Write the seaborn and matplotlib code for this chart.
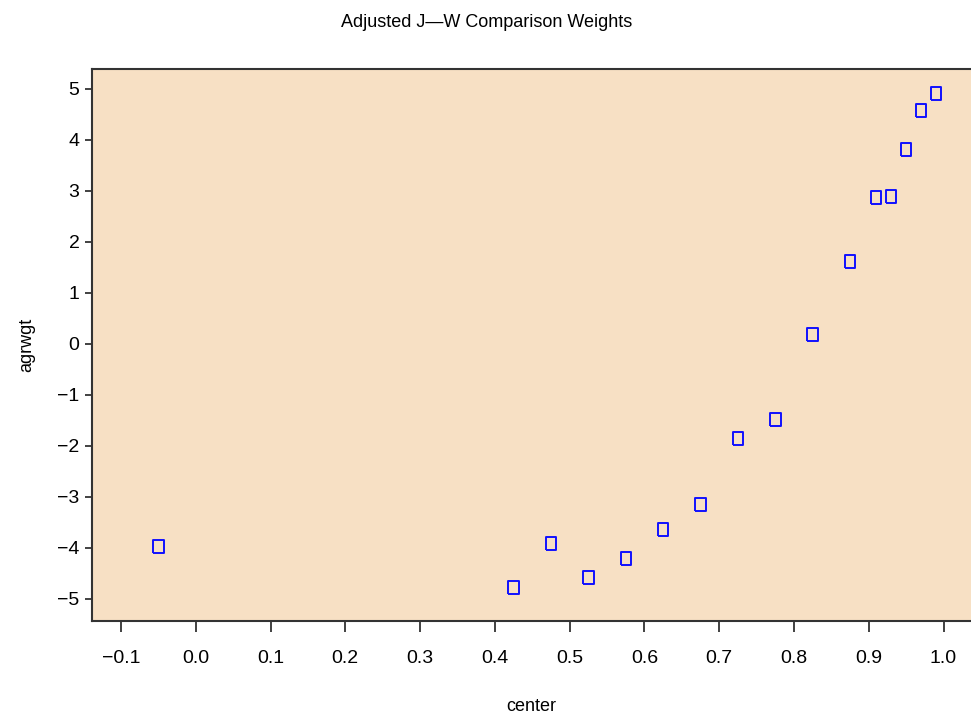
import matplotlib
matplotlib.use("Agg")
import matplotlib.pyplot as plt
import seaborn as sns
import pandas as pd

# Comparison weights by group center
center = [-0.050, 0.425, 0.475, 0.525, 0.575, 0.625, 0.675, 0.725, 0.775,
          0.825, 0.875, 0.910, 0.930, 0.950, 0.970, 0.990]
agrwgt = [-3.97, -4.78, -3.92, -4.57, -4.20, -3.64, -3.14, -1.86, -1.49,
          0.18, 1.61, 2.88, 2.90, 3.82, 4.58, 4.92]

x_ticks = [-0.1, 0.0, 0.1, 0.2, 0.3, 0.4, 0.5, 0.6, 0.7, 0.8, 0.9, 1.0]
y_ticks = [-5, -4, -3, -2, -1, 0, 1, 2, 3, 4, 5]

df = pd.DataFrame({"center": center, "agrwgt": agrwgt})

sns.set_theme(style="ticks")
plt.rcParams["font.family"] = ["Liberation Sans Narrow", "Liberation Sans", "DejaVu Sans"]
plt.rcParams["axes.unicode_minus"] = True
plt.rcParams["text.color"] = "black"
plt.rcParams["axes.labelcolor"] = "black"

fig = plt.figure(figsize=(9.71, 7.22), dpi=100)
ax = fig.add_axes([0.0947, 0.140, 0.9053, 0.765])
ax.set_facecolor("#F7E0C4")

# tall open rectangle marker
rect = [(-0.8, -1.0), (0.8, -1.0), (0.8, 1.0), (-0.8, 1.0), (-0.8, -1.0)]
sns.scatterplot(data=df, x="center", y="agrwgt", ax=ax, marker=rect, s=88,
                facecolor="none", edgecolor="#1010FF", linewidth=1.4, legend=False)

ax.set_xlim(-0.1388, 1.0367)
ax.set_ylim(-5.43, 5.40)
ax.set_xticks(x_ticks)
ax.set_xticklabels([f"{v:.1f}".replace("-", "\u2212") for v in x_ticks])
ax.set_yticks(y_ticks)
ax.set_yticklabels([str(v).replace("-", "\u2212") for v in y_ticks])

for side in ("left", "bottom", "top"):
    ax.spines[side].set_color("#333333")
    ax.spines[side].set_linewidth(1.5)
ax.spines["right"].set_visible(False)

ax.tick_params(axis="x", direction="out", length=8, width=1.3, pad=13,
               labelsize=14, colors="#333333", labelcolor="black")
ax.tick_params(axis="y", direction="out", length=5, width=1.3, pad=4,
               labelsize=14, colors="#333333", labelcolor="black")

ax.set_xlabel("center", fontsize=13, labelpad=22)
ax.set_ylabel("agrwgt", fontsize=13, labelpad=16)
fig.text(0.5015, 0.969, "Adjusted J\u2014W Comparison Weights", ha="center",
         va="center", fontsize=13)

fig.savefig("out.png", dpi=100, facecolor="white")
